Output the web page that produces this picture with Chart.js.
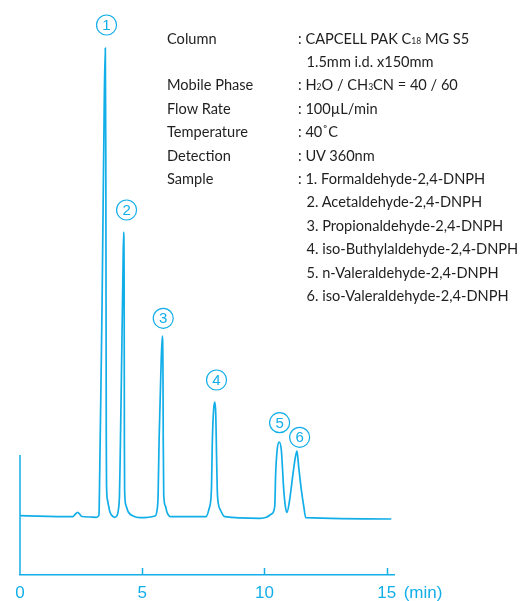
<!DOCTYPE html>
<html>
<head>
<meta charset="utf-8">
<script src="https://cdn.jsdelivr.net/npm/chart.js@4"></script>
<style>
  body { margin: 0; background: #fff; }
  #wrap { position: relative; width: 521px; height: 601px; }
  #info { position: absolute; left: 0; top: 26.6px; font-family: Lato, sans-serif; font-size: 14.6px; color: #1f1f1f; line-height: 23.4px; }
  #info .k { position: absolute; left: 167px; white-space: nowrap; }
  #info .v { position: absolute; left: 298px; white-space: nowrap; }
  #info .c { position: absolute; left: 306.5px; white-space: nowrap; }
  .s { font-size: 8.5px; }
</style>
</head>
<body>
<div id="wrap">
  <canvas id="chrom" width="521" height="601"></canvas>
  <div id="info">
    <div class="k" style="top:0px">Column</div><div class="v" style="top:0px">: CAPCELL PAK C<span class="s">18</span> MG S5</div>
    <div class="c" style="top:23.4px">1.5mm i.d. x150mm</div>
    <div class="k" style="top:46.8px">Mobile Phase</div><div class="v" style="top:46.8px">: H<span class="s">2</span>O / CH<span class="s">3</span>CN = 40 / 60</div>
    <div class="k" style="top:70.2px">Flow Rate</div><div class="v" style="top:70.2px">: 100µL/min</div>
    <div class="k" style="top:93.6px">Temperature</div><div class="v" style="top:93.6px">: 40˚C</div>
    <div class="k" style="top:117px">Detection</div><div class="v" style="top:117px">: UV 360nm</div>
    <div class="k" style="top:140.4px">Sample</div><div class="v" style="top:140.4px">: 1. Formaldehyde-2,4-DNPH</div>
    <div class="c" style="top:163.8px">2. Acetaldehyde-2,4-DNPH</div>
    <div class="c" style="top:187.2px">3. Propionaldehyde-2,4-DNPH</div>
    <div class="c" style="top:210.6px">4. iso-Buthylaldehyde-2,4-DNPH</div>
    <div class="c" style="top:234px">5. n-Valeraldehyde-2,4-DNPH</div>
    <div class="c" style="top:257.4px">6. iso-Valeraldehyde-2,4-DNPH</div>
  </div>
</div>
<script>
const blue = '#12aee8';

// retention time (min) and detector signal (arbitrary units)
const times = [0, 2.15, 2.25, 2.36, 2.45, 2.53, 2.86, 3.13, 3.23, 3.26, 3.28, 3.36, 3.45, 3.49, 3.51, 3.52, 3.53, 3.54, 3.58, 3.68, 3.81, 3.88,
  3.98, 4.03, 4.07, 4.10, 4.15, 4.21, 4.24, 4.26, 4.27, 4.28, 4.33, 4.43, 4.63, 4.90,
  5.52, 5.60, 5.65, 5.69, 5.76, 5.82, 5.85, 5.86, 5.88, 5.95, 6.01, 6.17,
  7.60, 7.74, 7.83, 7.87, 7.92, 7.97, 8.01, 8.04, 8.07, 8.11, 8.20, 8.38,
  9.81, 10.08, 10.29, 10.42, 10.46, 10.52, 10.60, 10.69, 10.79, 10.86, 10.92,
  11.03, 11.17, 11.27, 11.33, 11.40, 11.51, 11.61, 11.69, 15.19];
const signal = [59.3, 58.3, 60.5, 62.7, 60.5, 58.5, 58, 57.7, 60, 100, 135, 275, 480, 527, 420, 275, 135, 90, 75, 63, 58.3, 57.7,
  60, 66, 80, 120, 200, 300, 343, 300, 135, 85, 70, 63, 59, 57.3,
  59, 64, 80, 135, 200, 239, 200, 135, 80, 69, 63, 58.3,
  58.3, 66.7, 85, 135, 165, 173, 160, 120, 85, 72, 65, 58.3,
  56.7, 57.7, 61, 68.3, 102, 125, 133, 125, 85, 68, 62.5,
  75, 101.7, 118.3, 124, 108.3, 85, 68.3, 57.3, 56];

// peak number markers
const peakNames = ['1', '2', '3', '4', '5', '6'];
const peakLabelT = [3.54, 4.36, 5.86, 8.04, 10.62, 11.44];
const peakLabelY = [550, 365, 256.7, 195, 152.3, 137.7];

const xTicks = [0, 5, 10, 15];
const xMax = 15.3;
const yTop = 575;
const yAxisTop = 120;

const extras = {
  id: 'extras',
  afterDraw(chart) {
    const c = chart.ctx, x = chart.scales.x, y = chart.scales.y;
    c.save();
    c.strokeStyle = blue;
    c.lineWidth = 1.5;
    // short y axis line
    c.beginPath();
    c.moveTo(x.getPixelForValue(0), y.getPixelForValue(0));
    c.lineTo(x.getPixelForValue(0), y.getPixelForValue(yAxisTop));
    c.stroke();
    // inward tick marks
    xTicks.slice(1).forEach(v => {
      const px = Math.round(x.getPixelForValue(v)) + 0.5;
      c.beginPath();
      c.moveTo(px, y.getPixelForValue(0));
      c.lineTo(px, y.getPixelForValue(0) - 7);
      c.stroke();
    });
    // unit label
    c.fillStyle = blue;
    c.font = '17px "Liberation Sans", Arial, sans-serif';
    c.textBaseline = 'middle';
    c.textAlign = 'left';
    c.fillText('(min)', x.getPixelForValue(15) + 17, 593);
    // circled peak numbers
    c.lineWidth = 1.2;
    c.font = '15px "Liberation Sans", Arial, sans-serif';
    c.textAlign = 'center';
    peakNames.forEach((n, i) => {
      const cx = x.getPixelForValue(peakLabelT[i]);
      const cy = y.getPixelForValue(peakLabelY[i]);
      c.beginPath();
      c.arc(cx, cy, 10, 0, Math.PI * 2);
      c.stroke();
      c.fillText(n, cx, cy + 1);
    });
    c.restore();
  }
};

new Chart(document.getElementById('chrom'), {
  type: 'line',
  data: {
    datasets: [{
      data: times.map((t, i) => ({ x: t, y: signal[i] })),
      borderColor: blue,
      borderWidth: 1.7,
      pointRadius: 0,
      cubicInterpolationMode: 'monotone',
      fill: false
    }]
  },
  options: {
    responsive: false,
    animation: false,
    layout: { padding: { left: 20, right: 127, top: 0, bottom: 0 } },
    plugins: { legend: { display: false }, tooltip: { enabled: false } },
    scales: {
      x: {
        type: 'linear',
        min: 0,
        max: xMax,
        afterBuildTicks: s => { s.ticks = xTicks.map(v => ({ value: v })); },
        afterFit: s => { s.height = 26; },
        grid: { display: false, drawTicks: false },
        border: { display: true, color: blue, width: 1.5 },
        ticks: { color: blue, padding: 8, maxRotation: 0, font: { size: 17, family: '"Liberation Sans", Arial, sans-serif' } }
      },
      y: {
        display: false,
        min: 0,
        max: yTop
      }
    }
  },
  plugins: [extras]
});
</script>
</body>
</html>
